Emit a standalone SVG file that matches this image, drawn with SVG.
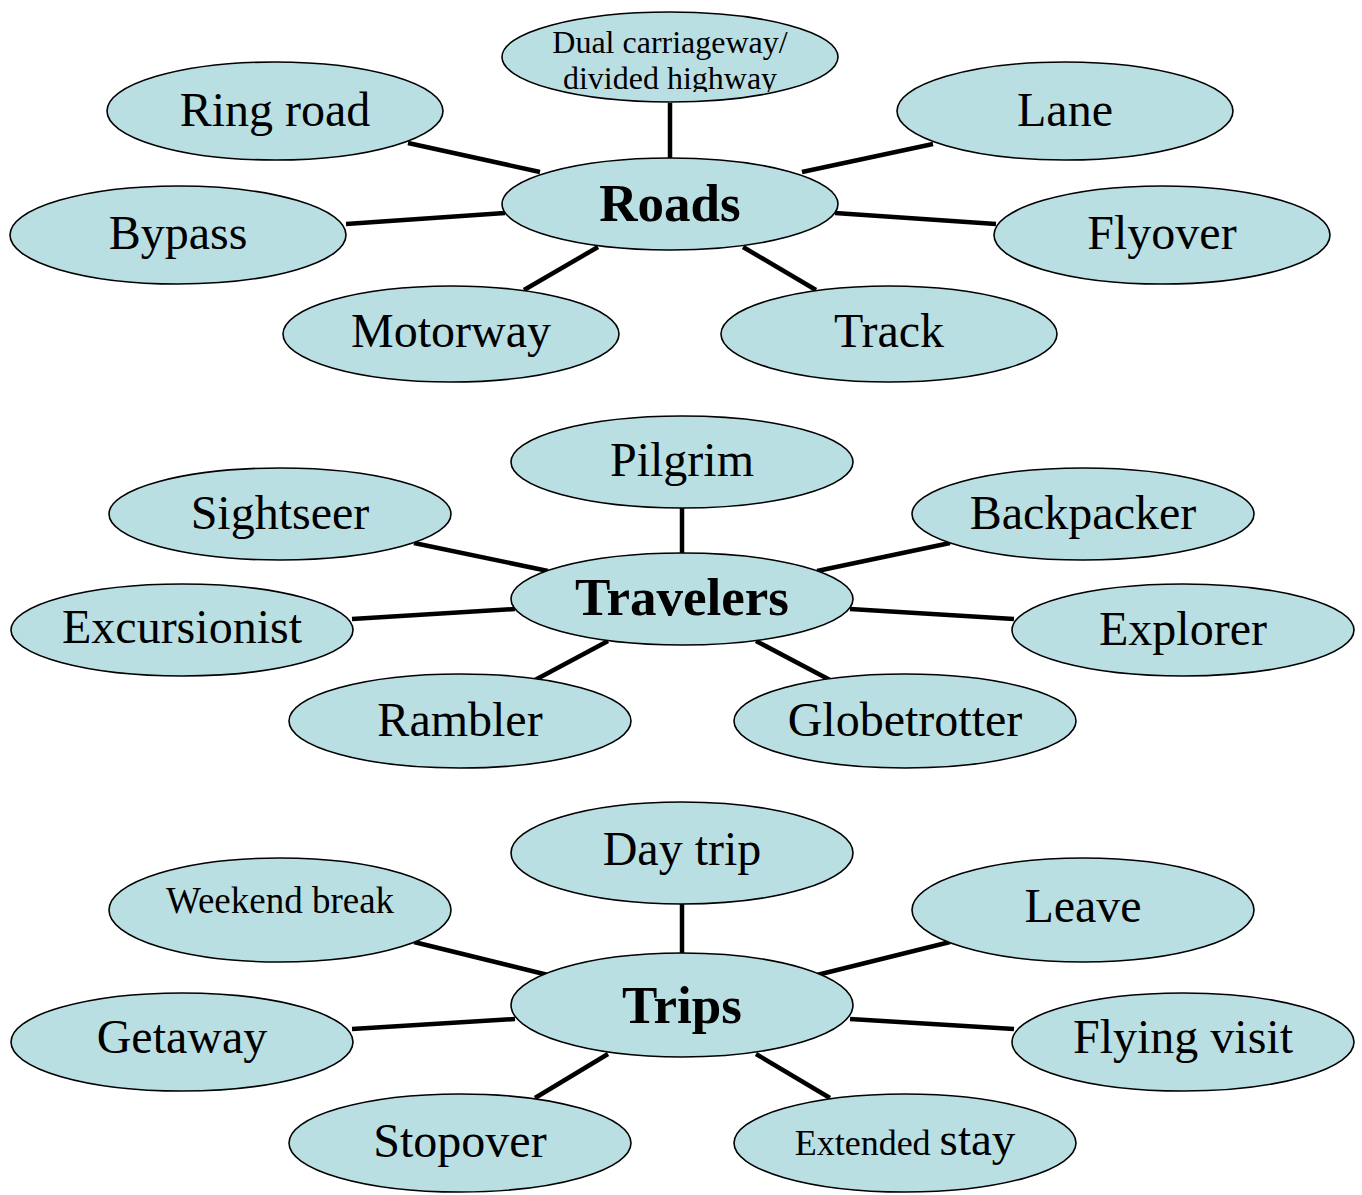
<svg xmlns="http://www.w3.org/2000/svg" width="1362" height="1195" viewBox="0 0 1362 1195">
<style>
.n{fill:#badfe3;stroke:#000;stroke-width:1.6}
.t{font-family:"Liberation Serif","Times New Roman",serif;font-size:48px;text-anchor:middle;fill:#000}
.b{font-weight:bold;font-size:53px}
.s{font-size:32px}
.w{font-size:37px}
.e{font-size:36px}
#connectors line{stroke:#000;stroke-width:4.5}
</style>
<defs>
<clipPath id="dc"><rect x="480" y="0" width="380" height="92"/></clipPath>
</defs>
<rect width="1362" height="1195" fill="#fff"/>
<g id="connectors">
<line x1="670" y1="103" x2="670" y2="160"/>
<line x1="408" y1="143" x2="540" y2="172"/>
<line x1="933" y1="144" x2="802" y2="172"/>
<line x1="346" y1="224" x2="505" y2="213"/>
<line x1="835" y1="213" x2="996" y2="224"/>
<line x1="524" y1="290" x2="598" y2="247"/>
<line x1="816" y1="290" x2="743" y2="247"/>
<line x1="682" y1="508" x2="682" y2="555"/>
<line x1="414" y1="543" x2="548" y2="571"/>
<line x1="950" y1="543" x2="817" y2="571"/>
<line x1="352" y1="619" x2="515" y2="609"/>
<line x1="850" y1="609" x2="1014" y2="619"/>
<line x1="535" y1="680" x2="608" y2="641"/>
<line x1="830" y1="680" x2="756" y2="641"/>
<line x1="682" y1="904" x2="682" y2="955"/>
<line x1="414" y1="942" x2="548" y2="975"/>
<line x1="950" y1="942" x2="817" y2="975"/>
<line x1="352" y1="1029" x2="515" y2="1019"/>
<line x1="850" y1="1019" x2="1014" y2="1029"/>
<line x1="535" y1="1098" x2="608" y2="1054"/>
<line x1="830" y1="1098" x2="756" y2="1054"/>
</g>
<g id="dual"><ellipse class="n" cx="670" cy="57" rx="168" ry="45"/><g clip-path="url(#dc)"><text class="t s" x="670" y="53">Dual carriageway/</text><text class="t s" x="670" y="89">divided highway</text></g></g>
<g id="ringroad"><ellipse class="n" cx="275" cy="111" rx="168" ry="49"/><text class="t" x="275" y="126">Ring road</text></g>
<g id="lane"><ellipse class="n" cx="1065" cy="111" rx="168" ry="49"/><text class="t" x="1065" y="126">Lane</text></g>
<g id="roads"><ellipse class="n" cx="670" cy="204" rx="168" ry="46"/><text class="t b" x="670" y="221">Roads</text></g>
<g id="bypass"><ellipse class="n" cx="178" cy="235" rx="168" ry="49"/><text class="t" x="178" y="249">Bypass</text></g>
<g id="flyover"><ellipse class="n" cx="1162" cy="235" rx="168" ry="49"/><text class="t" x="1162" y="249">Flyover</text></g>
<g id="motorway"><ellipse class="n" cx="451" cy="334" rx="168" ry="48"/><text class="t" x="451" y="347">Motorway</text></g>
<g id="track"><ellipse class="n" cx="889" cy="334" rx="168" ry="48"/><text class="t" x="889" y="347">Track</text></g>

<g id="pilgrim"><ellipse class="n" cx="682" cy="462" rx="171" ry="46"/><text class="t" x="682" y="476">Pilgrim</text></g>
<g id="sightseer"><ellipse class="n" cx="280" cy="514" rx="171" ry="46"/><text class="t" x="280" y="529">Sightseer</text></g>
<g id="backpacker"><ellipse class="n" cx="1083" cy="514" rx="171" ry="46"/><text class="t" x="1083" y="529">Backpacker</text></g>
<g id="travelers"><ellipse class="n" cx="682" cy="599" rx="171" ry="46"/><text class="t b" x="682" y="615">Travelers</text></g>
<g id="excursionist"><ellipse class="n" cx="182" cy="630" rx="171" ry="46"/><text class="t" x="182" y="643">Excursionist</text></g>
<g id="explorer"><ellipse class="n" cx="1183" cy="630" rx="171" ry="46"/><text class="t" x="1183" y="645">Explorer</text></g>
<g id="rambler"><ellipse class="n" cx="460" cy="721" rx="171" ry="47"/><text class="t" x="460" y="736">Rambler</text></g>
<g id="globetrotter"><ellipse class="n" cx="905" cy="721" rx="171" ry="47"/><text class="t" x="905" y="736">Globetrotter</text></g>

<g id="daytrip"><ellipse class="n" cx="682" cy="853" rx="171" ry="51"/><text class="t" x="682" y="865">Day trip</text></g>
<g id="weekend"><ellipse class="n" cx="280" cy="910" rx="171" ry="52"/><text class="t w" x="280" y="913">Weekend break</text></g>
<g id="leave"><ellipse class="n" cx="1083" cy="910" rx="171" ry="52"/><text class="t" x="1083" y="922">Leave</text></g>
<g id="trips"><ellipse class="n" cx="682" cy="1005" rx="171" ry="52"/><text class="t b" x="682" y="1023">Trips</text></g>
<g id="getaway"><ellipse class="n" cx="182" cy="1042" rx="171" ry="49"/><text class="t" x="182" y="1053">Getaway</text></g>
<g id="flyingvisit"><ellipse class="n" cx="1183" cy="1042" rx="171" ry="49"/><text class="t" x="1183" y="1053">Flying visit</text></g>
<g id="stopover"><ellipse class="n" cx="460" cy="1143" rx="171" ry="49"/><text class="t" x="460" y="1157">Stopover</text></g>
<g id="extended"><ellipse class="n" cx="905" cy="1143" rx="171" ry="49"/><text class="t" x="905" y="1155"><tspan class="e">Extended </tspan><tspan font-size="47">stay</tspan></text></g>
</svg>
